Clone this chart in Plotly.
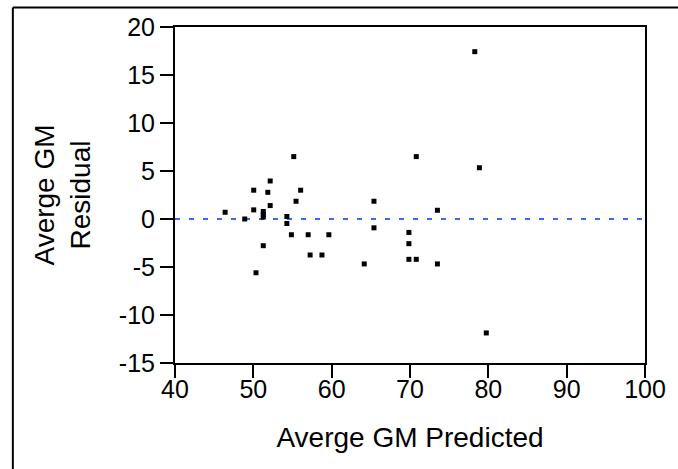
import plotly.graph_objects as go

# Data
predicted = [46.4, 48.9, 50.05, 50.05, 50.34, 51.27, 51.27, 51.27, 51.27, 51.85,
             52.15, 52.15, 54.28, 54.28, 54.86, 55.16, 55.45, 56.04, 57.0, 57.25,
             58.76, 59.64, 64.16, 65.4, 65.4, 69.86, 69.86, 69.86, 70.8, 70.8,
             73.5, 73.5, 78.27, 78.86, 79.74]
residual = [0.7, 0.0, 3.0, 0.95, -5.6, 0.78, 0.47, 0.2, -2.78, 2.78,
            3.96, 1.4, 0.26, -0.47, -1.64, 6.5, 1.85, 3.0, -1.64, -3.75,
            -3.75, -1.64, -4.68, 1.85, -0.92, -1.4, -2.57, -4.2, -4.2, 6.5,
            0.91, -4.68, 17.43, 5.34, -11.87]

ref_x = [40, 100]
ref_y = [0, 0]

x_ticks = [40, 50, 60, 70, 80, 90, 100]
y_ticks = [-15, -10, -5, 0, 5, 10, 15, 20]

FONT = "Liberation Sans, Arial, sans-serif"

fig = go.Figure()
fig.add_trace(go.Scatter(
    x=ref_x, y=ref_y, mode="lines",
    line=dict(color="#3a6af5", width=2, dash="5px,9px"),
    hoverinfo="skip", showlegend=False,
))
fig.add_trace(go.Scatter(
    x=predicted, y=residual, mode="markers",
    marker=dict(symbol="square", size=5, color="black", line=dict(width=0)),
    showlegend=False,
))

axis_common = dict(
    showline=True, linecolor="black", linewidth=2, mirror=True,
    ticks="outside", ticklen=13, tickwidth=2, tickcolor="black",
    showgrid=False, zeroline=False,
    tickfont=dict(family=FONT, size=25, color="black"),
)

fig.update_xaxes(
    range=[40, 100], tickvals=x_ticks, ticktext=[str(v) for v in x_ticks],
    ticklabelstandoff=-10,
    title=dict(text="Averge GM Predicted", font=dict(family=FONT, size=28, color="black"), standoff=25),
    **axis_common,
)
fig.update_yaxes(
    range=[-15, 20], tickvals=y_ticks, ticktext=[str(v) for v in y_ticks],
    title=dict(text="Averge GM<br>Residual", font=dict(family=FONT, size=28, color="black"), standoff=20),
    **axis_common,
)

# Outer frame (left and top edges; cropped on right and bottom in the reference)
frame_left = -0.345
frame_top = 1.058
fig.add_shape(type="line", xref="paper", yref="paper",
              x0=frame_left, x1=frame_left, y0=-0.5, y1=frame_top,
              line=dict(color="black", width=2), layer="above")
fig.add_shape(type="line", xref="paper", yref="paper",
              x0=frame_left, x1=1.2, y0=frame_top, y1=frame_top,
              line=dict(color="black", width=2), layer="above")

fig.update_layout(
    width=678, height=469,
    margin=dict(l=175, r=25, t=27, b=106),
    paper_bgcolor="white", plot_bgcolor="white",
    font=dict(family=FONT, color="black"),
)

fig.write_html("out.html", config={"displayModeBar": False},
               post_script="document.body.style.margin='0';")
